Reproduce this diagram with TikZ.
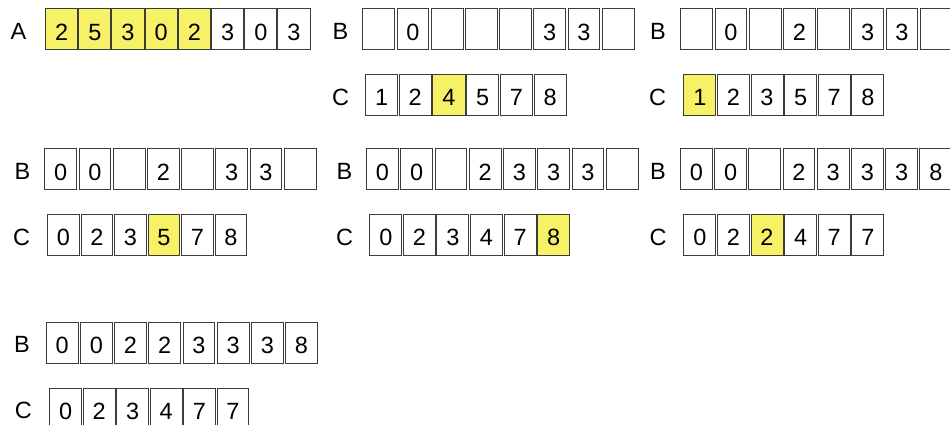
\documentclass[tikz,border=0pt]{standalone}
\usepackage{fontspec}
\setmainfont{Liberation Sans}
\definecolor{hl}{RGB}{247,241,104}
\definecolor{edge}{RGB}{60,60,60}
\newcommand\cellrow[6]{%
  \foreach \v/\f [count=\i] in {#6} {
    \node[cellbox, fill=\f, minimum width=#5pt] (#1\i) at ({#2+(\i-1)*#4},#3) {\v};
  }}
\begin{document}
\begin{tikzpicture}[x=1pt,y=-1pt,
  cellbox/.style={draw=edge, line width=1pt, inner sep=0pt, anchor=north west,
    minimum height=41pt, text height=21.5pt, text depth=0pt,
    font=\fontsize{23.5}{28}\selectfont},
  lab/.style={inner sep=0pt, text height=21.5pt, text depth=0pt,
    font=\fontsize{23.5}{28}\selectfont}]
\useasboundingbox[fill=white] (0,0) rectangle (950,425);
% Row 1
\node[lab] (lA) at (18.5,28.8) {A};
\cellrow{a}{45}{8.3}{33.2}{32.2}{2/hl,5/hl,3/hl,0/hl,2/hl,3/white,0/white,3/white}
\node[lab] (lB1) at (340.5,28.8) {B};
\cellrow{ba}{362.3}{8.3}{34.2}{31.8}{{}/white,0/white,{}/white,{}/white,{}/white,3/white,3/white,{}/white}
\node[lab] (lB2) at (658,28.8) {B};
\cellrow{bb}{680.3}{8.3}{34.2}{31.8}{{}/white,0/white,{}/white,2/white,{}/white,3/white,3/white,{}/white}
\node[lab] (lC1) at (340.5,94.3) {C};
\cellrow{ca}{365}{73.8}{33.7}{32.1}{1/white,2/white,4/hl,5/white,7/white,8/white}
\node[lab] (lC2) at (657.5,94.3) {C};
\cellrow{cb}{683.3}{73.8}{33.6}{32}{1/hl,2/white,3/white,5/white,7/white,8/white}
% Row 2
\node[lab] (lB3) at (22.5,168.8) {B};
\cellrow{bc}{44.3}{148.3}{34.2}{31.8}{0/white,0/white,{}/white,2/white,{}/white,3/white,3/white,{}/white}
\node[lab] (lB4) at (344.5,168.8) {B};
\cellrow{bd}{366}{148.3}{34.25}{31.85}{0/white,0/white,{}/white,2/white,3/white,3/white,3/white,{}/white}
\node[lab] (lB5) at (658,168.8) {B};
\cellrow{be}{680}{148.3}{34.2}{31.8}{0/white,0/white,{}/white,2/white,3/white,3/white,3/white,8/white}
\node[lab] (lC3) at (21.7,234.3) {C};
\cellrow{cc}{47}{213.8}{33.5}{31.9}{0/white,2/white,3/white,5/hl,7/white,8/white}
\node[lab] (lC4) at (344.5,234.3) {C};
\cellrow{cd}{369.3}{213.8}{33.57}{31.97}{0/white,2/white,3/white,4/white,7/white,8/hl}
\node[lab] (lC5) at (658,234.3) {C};
\cellrow{ce}{683.3}{213.8}{33.6}{32}{0/white,2/white,2/hl,4/white,7/white,7/white}
% Row 3
\node[lab] (lB6) at (22,342.2) {B};
\cellrow{bf}{45.7}{321.7}{34.2}{31.8}{0/white,0/white,2/white,2/white,3/white,3/white,3/white,8/white}
\node[lab] (lC6) at (23.3,408) {C};
\cellrow{cf}{49.3}{387.5}{33.45}{31.85}{0/white,2/white,3/white,4/white,7/white,7/white}
\end{tikzpicture}
\end{document}
